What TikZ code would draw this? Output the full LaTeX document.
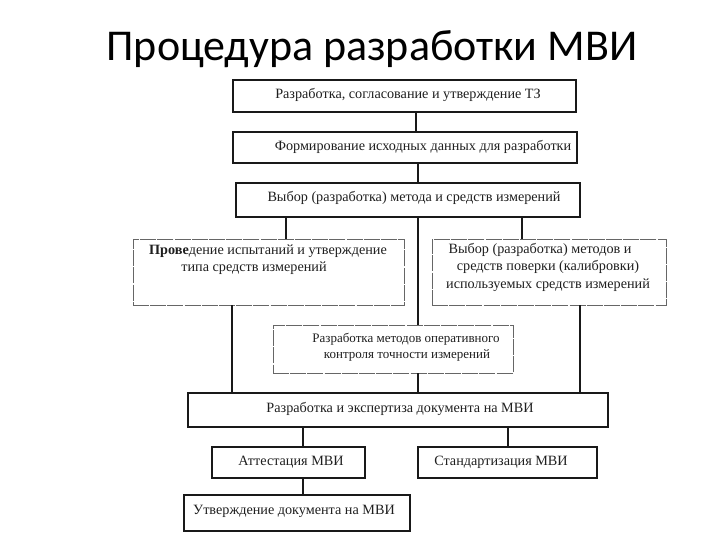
\documentclass[tikz,border=0pt]{standalone}
\usepackage{fontspec}
\setmainfont{Liberation Serif}
\newfontfamily\titlefont{Carlito}
\begin{document}
\begin{tikzpicture}[x=1pt,y=-1pt,
  box/.style={draw=black!90, line width=1.2pt, rectangle, inner sep=0pt},
  fbox/.style={draw=black!60, line width=0.8pt, dash pattern=on 16pt off 1.2pt, rectangle, inner sep=0pt},
  txt/.style={inner sep=0pt, text=black!88, font=\fontsize{14.2}{16}\selectfont},
  stxt/.style={inner sep=0pt, text=black!88, font=\fontsize{13}{15}\selectfont},
  conn/.style={draw=black!90, line width=1.2pt}]
\useasboundingbox (0,0) rectangle (720,540);
\fill[white] (0,0) rectangle (720,540);
\node[inner sep=0pt, font=\titlefont\fontsize{44}{50}\selectfont] (title) at (372,49) {Процедура разработки МВИ};
% boxes
\node[box, minimum width=343pt, minimum height=32pt] (b1) at (404.5,96) {};
\node[box, minimum width=344pt, minimum height=31pt] (b2) at (405,147.5) {};
\node[box, minimum width=344pt, minimum height=34pt] (b3) at (408,200) {};
\node[fbox, minimum width=271pt, minimum height=66pt] (b4) at (268.5,272) {};
\node[fbox, minimum width=234pt, minimum height=66pt] (b5) at (549,272) {};
\node[fbox, minimum width=240pt, minimum height=48pt] (b6) at (393,349) {};
\node[box, minimum width=420pt, minimum height=34pt] (b7) at (398,410) {};
\node[box, minimum width=153pt, minimum height=31pt] (b8) at (288.5,462.5) {};
\node[box, minimum width=179pt, minimum height=31pt] (b9) at (507.5,462.5) {};
\node[box, minimum width=226pt, minimum height=36pt] (b10) at (297,513) {};
% texts
\node[txt] (t1) at (408,95) {Разработка, согласование и утверждение ТЗ};
\node[txt] (t2) at (423,147) {Формирование исходных данных для разработки};
\node[txt] (t3) at (414,198) {Выбор (разработка) метода и средств измерений};
\node[txt] (t4a) at (268,251) {\textbf{Прове}дение испытаний и утверждение};
\node[txt] (t4b) at (254,268) {типа средств измерений};
\node[txt] (t5a) at (540,250) {Выбор (разработка) методов и};
\node[txt] (t5b) at (548,267) {средств поверки (калибровки)};
\node[txt] (t5c) at (548,285) {используемых средств измерений};
\node[stxt] (t6a) at (406,339) {Разработка методов оперативного};
\node[stxt] (t6b) at (407,355) {контроля точности измерений};
\node[txt] (t7) at (400,409) {Разработка и экспертиза документа на МВИ};
\node[txt] (t8) at (291,462) {Аттестация МВИ};
\node[txt] (t9) at (501,462) {Стандартизация МВИ};
\node[txt] (t10) at (294,511) {Утверждение документа на МВИ};
% connector columns
\coordinate (xa) at (416,0);
\coordinate (xb) at (418,0);
\coordinate (xc) at (286,0);
\coordinate (xd) at (522,0);
\coordinate (xe) at (232,0);
\coordinate (xf) at (580,0);
\coordinate (xg) at (303,0);
\coordinate (xh) at (508,0);
\draw[conn] (b1.south -| xa) -- (b2.north -| xa);
\draw[conn] (b2.south -| xb) -- (b3.north -| xb);
\draw[conn] (b3.south -| xc) -- (b4.north -| xc);
\draw[conn] (b3.south -| xb) -- (b6.north -| xb);
\draw[conn] (b3.south -| xd) -- (b5.north -| xd);
\draw[conn] (b4.south -| xe) -- (b7.north -| xe);
\draw[conn] (b6.south -| xb) -- (b7.north -| xb);
\draw[conn] (b5.south -| xf) -- (b7.north -| xf);
\draw[conn] (b7.south -| xg) -- (b8.north -| xg);
\draw[conn] (b7.south -| xh) -- (b9.north -| xh);
\draw[conn] (b8.south -| xg) -- (b10.north -| xg);
\end{tikzpicture}
\end{document}
